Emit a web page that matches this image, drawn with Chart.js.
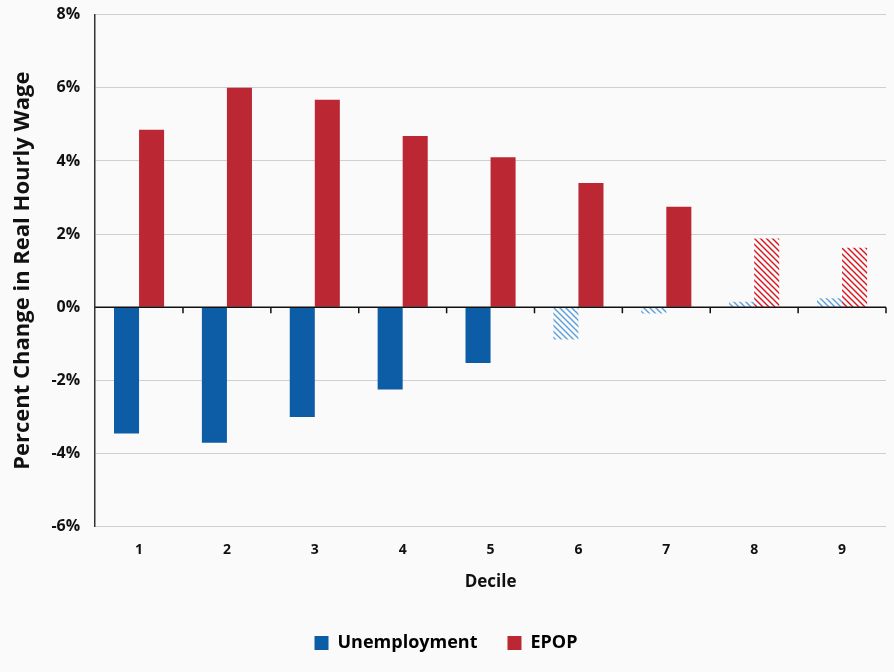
<!DOCTYPE html>
<html>
<head>
<meta charset="utf-8">
<script src="https://cdn.jsdelivr.net/npm/chart.js@4"></script>
<style>
  html, body { margin: 0; padding: 0; background: #fafafa; }
  #wrap { width: 894px; height: 672px; }
</style>
</head>
<body>
<div id="wrap"><canvas id="chart"></canvas></div>
<script>
const deciles = ['1', '2', '3', '4', '5', '6', '7', '8', '9'];
const unemployment = [-3.45, -3.7, -3.0, -2.25, -1.52, -0.88, -0.17, 0.15, 0.25];
const epop = [4.85, 6.0, 5.67, 4.68, 4.1, 3.4, 2.75, 1.88, 1.63];
// deciles whose estimates are drawn hatched (not significant)
const unemploymentHatched = [false, false, false, false, false, true, true, true, true];
const epopHatched = [false, false, false, false, false, false, false, true, true];
const yTicks = [-6, -4, -2, 0, 2, 4, 6, 8];

function hatch(color) {
  const c = document.createElement('canvas');
  c.width = 6; c.height = 6;
  const ctx = c.getContext('2d');
  ctx.fillStyle = '#fafafa';
  ctx.fillRect(0, 0, 6, 6);
  ctx.strokeStyle = color;
  ctx.lineWidth = 1.4;
  ctx.beginPath();
  ctx.moveTo(-1, -1); ctx.lineTo(7, 7);
  ctx.moveTo(-4, 2); ctx.lineTo(2, 8);
  ctx.moveTo(2, -4); ctx.lineTo(8, 2);
  ctx.stroke();
  return c.getContext('2d').createPattern(c, 'repeat');
}

const blue = '#0c5da5';
const red = '#bb2833';
const blueHatch = hatch('#5b9fdc');
const redHatch = hatch('#d9141e');

const zeroLine = {
  id: 'zeroLine',
  afterDatasetsDraw(chart) {
    const { ctx, chartArea, scales: { x, y } } = chart;
    const y0 = y.getPixelForValue(0);
    ctx.save();
    ctx.strokeStyle = '#111';
    ctx.lineWidth = 1.5;
    ctx.beginPath();
    ctx.moveTo(chartArea.left, y0);
    ctx.lineTo(chartArea.right, y0);
    for (let i = 1; i <= deciles.length; i++) {
      const px = x.getPixelForValue(i - 0.5);
      ctx.moveTo(px, y0);
      ctx.lineTo(px, y0 + 6);
    }
    ctx.stroke();
    ctx.restore();
  }
};

new Chart(document.getElementById('chart'), {
  type: 'bar',
  data: {
    labels: deciles,
    datasets: [
      { label: 'Unemployment', data: unemployment, backgroundColor: unemployment.map((v, i) => unemploymentHatched[i] ? blueHatch : blue) },
      { label: 'EPOP', data: epop, backgroundColor: epop.map((v, i) => epopHatched[i] ? redHatch : red) },
    ],
  },
  plugins: [zeroLine],
  options: {
    responsive: true,
    maintainAspectRatio: false,
    animation: false,
    layout: { padding: { left: 6, right: 8, top: 0, bottom: 10 } },
    datasets: { bar: { barPercentage: 1, categoryPercentage: 0.57, borderWidth: 0 } },
    plugins: {
      legend: {
        position: 'bottom',
        labels: {
          generateLabels: (chart) => chart.data.datasets.map((ds, i) => ({
            text: ds.label, fillStyle: i === 0 ? blue : red, strokeStyle: 'transparent', lineWidth: 0, datasetIndex: i,
          })),
          boxWidth: 14, boxHeight: 14, padding: 30, color: '#111',
          font: { family: 'Open Sans', size: 18, weight: 'bold' },
        },
      },
      tooltip: { enabled: false },
    },
    scales: {
      x: {
        grid: { display: false },
        border: { display: false },
        ticks: { color: '#111', padding: 7, font: { family: 'Open Sans', size: 14, weight: 'bold' } },
        title: { display: true, text: 'Decile', color: '#111', padding: { top: 6, bottom: 12 }, font: { family: 'Open Sans', size: 17, weight: 'bold' } },
      },
      y: {
        min: -6, max: 8,
        afterBuildTicks: (axis) => { axis.ticks = yTicks.map((v) => ({ value: v })); },
        grid: { color: '#cfcfcf', lineWidth: 1, drawTicks: true, tickLength: 10, tickColor: 'transparent' },
        border: { display: true, color: '#333', width: 1.5 },
        ticks: { color: '#111', padding: 5, callback: (v) => v + '%', font: { family: 'Open Sans', size: 16, weight: 'bold' } },
        title: { display: true, text: 'Percent Change in Real Hourly Wage', color: '#111', padding: { top: 4, bottom: 10 }, font: { family: 'Open Sans', size: 22, weight: 'bold' } },
      },
    },
  },
});
</script>
</body>
</html>
